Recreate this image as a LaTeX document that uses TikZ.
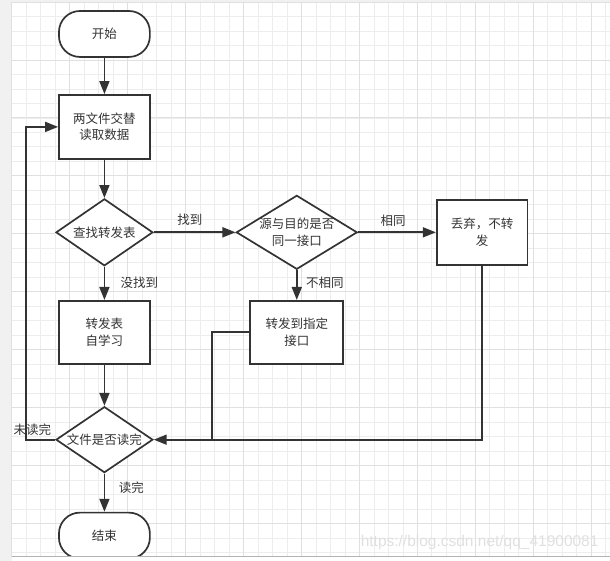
\documentclass[tikz,border=0pt]{standalone}
\usepackage{fontspec}
\setmainfont{Noto Sans CJK SC}
\newfontfamily\wmfont{Liberation Sans}
\usetikzlibrary{shapes.geometric,arrows.meta}
\definecolor{ink}{HTML}{333333}
\definecolor{gridminor}{HTML}{EDEDED}
\definecolor{gridmajor}{HTML}{E0E0E0}
\definecolor{strip}{HTML}{F1F1F1}
\definecolor{wm}{HTML}{E0E0E0}
\begin{document}
\begin{tikzpicture}[x=1pt,y=-1pt,
  txt/.style={font=\fontsize{12.5}{16.5}\selectfont,text=ink,align=center},
  box/.style={txt,draw=ink,line width=1.7pt,fill=white,inner sep=0pt,minimum width=91pt,minimum height=64pt},
  term/.style={box,rounded corners=21pt,minimum height=46pt},
  dec/.style={draw=ink,line width=1.7pt,fill=white,diamond,inner sep=0pt,minimum width=97pt,minimum height=67pt},
  dlab/.style={txt,inner sep=0pt},
  lbl/.style={txt,inner sep=0pt},
  ln/.style={draw=ink,line width=1.7pt},
  arr/.style={ln,-{Triangle[length=13pt,width=10pt]}}]
% background and grid
\fill[white] (0,0) rectangle (610,561);
\fill[strip] (0,0) rectangle (11.7,561);
\fill[strip] (0,0) rectangle (610,2);
\foreach \i in {0,...,41} \draw[gridminor,line width=0.8pt] ({11.7+14.5*\i},2) -- ({11.7+14.5*\i},557);
\foreach \j in {0,...,38} \draw[gridminor,line width=0.8pt] (11.7,{2+14.5*\j}) -- (610,{2+14.5*\j});
\foreach \i in {0,4,...,40} \draw[gridmajor,line width=0.9pt] ({11.7+14.5*\i},2) -- ({11.7+14.5*\i},557);
\foreach \j in {0,4,...,36} \draw[gridmajor,line width=0.9pt] (11.7,{2+14.5*\j}) -- (610,{2+14.5*\j});
\fill[white] (11.7,557) rectangle (610,561);
\draw[gridmajor!80!black,line width=0.8pt] (11.7,557) -- (610,557);
% watermark
\node[wm,font=\wmfont\fontsize{15.5}{16}\selectfont,inner sep=0pt] (wmk) at (480,543) {https://blog.csdn.net/qq\_41900081};
% nodes
\node[term] (start) at (104.5,34) {开始};
\node[box] (read) at (104.5,127) {两文件交替\\读取数据};
\node[dec,label={[dlab]center:查找转发表}] (find) at (104.5,232.5) {};
\node[dec,minimum width=121pt,minimum height=74pt,label={[dlab]center:{源与目的是否\\同一接口}}] (same) at (297,232.5) {};
\node[box,minimum height=65pt] (discard) at (482.5,232.5) {丢弃，不转\\发};
\node[box,minimum width=93pt,minimum height=63pt] (fwd) at (297,332.5) {转发到指定\\接口};
\node[box,minimum height=63pt] (learn) at (104.5,332.5) {转发表\\自学习};
\node[dec,minimum height=66pt,label={[dlab]center:文件是否读完}] (check) at (104.5,440) {};
\begin{scope}
\clip (0,0) rectangle (610,556.2);
\node[term] (end) at (104.5,536) {结束};
\end{scope}
\coordinate (join) at (212,440);
% connectors
\draw[arr] (start) -- (read);
\draw[arr] (read) -- (find);
\draw[arr] (find.east) -- (same.west);
\draw[arr] (same.east) -- (discard.west);
\draw[arr] (same.south) -- (fwd.north);
\draw[arr] (find.south) -- (learn.north);
\draw[arr] (learn) -- (check);
\draw[arr] (discard.south) |- (check.east);
\draw[ln] (fwd.west) -| (join);
\draw[arr] (check.west) -- ++(-29,0) |- (read.west);
\draw[arr] (check.south) -- (end.north);
% labels
\node[lbl] (lfound) at (190,220) {找到};
\node[lbl] (lsame) at (393.5,221) {相同};
\node[lbl] (ldiff) at (325,283) {不相同};
\node[lbl] (lnot) at (139.5,283) {没找到};
\node[lbl] (lunread) at (32.5,430) {未读完};
\node[lbl] (ldone) at (131.5,488) {读完};
\end{tikzpicture}
\end{document}
